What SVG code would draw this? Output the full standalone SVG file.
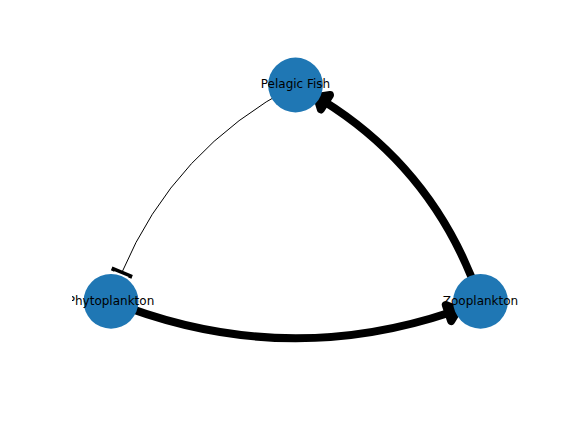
<svg xmlns="http://www.w3.org/2000/svg" width="576" height="432" viewBox="0 0 576 432">
  <style>
    .edge { fill: none; stroke: #000; }
    .thick { stroke-width: 8; stroke-linecap: butt; }
    .thin { stroke-width: 1; }
    .head { fill: #000; stroke: #000; stroke-width: 8; stroke-linejoin: round; }
    .bar { fill: none; stroke: #000; stroke-width: 3.5; stroke-linejoin: miter; }
    .node circle { fill: #1f77b4; }
    .label { font-family: "DejaVu Sans", sans-serif; font-size: 12px; fill: #000; text-anchor: middle; }
  </style>
  <defs>
    <clipPath id="axes">
      <rect x="72" y="51.84" width="446.4" height="332.64"/>
    </clipPath>
  </defs>
  <rect width="576" height="432" fill="#fff"/>

  <!-- connectors: arc3 curves (rad 0.2) between node centres -->
  <g id="edges">
    <!-- Phytoplankton -> Zooplankton -->
    <path class="edge thick" d="M111,301.3 Q280.89,369.25 450.79,312.22"/>
    <polygon class="head" points="457.96,309.86 451.13,321.07 445.79,304.93"/>
    <!-- Zooplankton -> Pelagic Fish -->
    <path class="edge thick" d="M480.5,301.3 Q436.4,171.31 322.91,100.67"/>
    <polygon class="head" points="317.01,96.91 330.01,95.08 320.91,109.44"/>
    <!-- Pelagic Fish -> Phytoplankton (bracket end) -->
    <path class="edge thin" d="M295.5,85 Q173.95,148.92 122,272.23"/>
    <polyline class="bar" points="112.5,271.0 113.4,268.8 130.6,276.0 129.8,278.2"/>
  </g>

  <g id="node-pelagic-fish" class="node">
    <circle cx="295.5" cy="85" r="27.4"/>
  </g>
  <g id="node-phytoplankton" class="node">
    <circle cx="111" cy="301.3" r="27.4"/>
  </g>
  <g id="node-zooplankton" class="node">
    <circle cx="480.5" cy="301.3" r="27.4"/>
  </g>

  <g id="labels" clip-path="url(#axes)">
    <text class="label" x="295.5" y="88.3">Pelagic Fish</text>
    <text class="label" x="111" y="304.5">Phytoplankton</text>
    <text class="label" x="480.5" y="304.5">Zooplankton</text>
  </g>
</svg>
